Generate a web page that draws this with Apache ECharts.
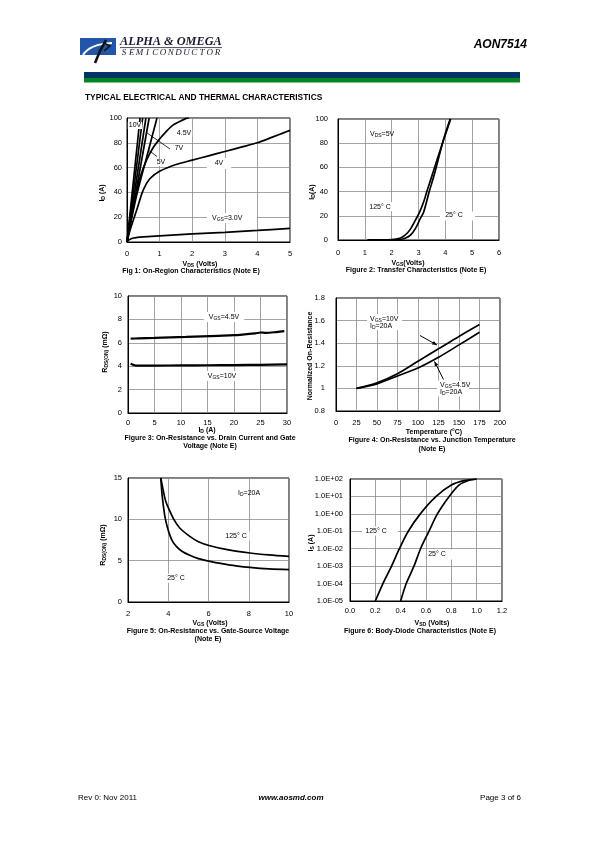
<!DOCTYPE html>
<html><head><meta charset="utf-8">
<script src="https://cdn.jsdelivr.net/npm/echarts@6/dist/echarts.min.js"></script>
<style>html,body{margin:0;padding:0;background:#fff}#c{width:595px;height:842px}</style>
</head><body><div id="c"></div>
<script>
// ---------- DATA ----------
// Fig 1: ID (A) vs VDS (V)
const f1_10V = [[0,0],[0.40,100]];
const f1_8V  = [[0,0],[0.48,100]];
const f1_7V  = [[0,0],[0.58,100]];
const f1_6V  = [[0,0],[0.68,100]];
const f1_5V  = [[0,0],[0.3,38],[0.66,74],[0.92,100]];
const f1_45V = [[0,0],[0.2,30],[0.4,52],[0.6,66],[0.8,76],[1.0,83],[1.2,89],[1.4,94],[1.6,97],[1.8,99.5],[1.9,100]];
const f1_4V  = [[0,0],[0.1,10],[0.3,26],[0.5,42],[0.7,51],[1.0,57],[1.5,62.5],[2.0,66],[2.5,69.5],[3.0,73],[3.5,76.5],[4.0,80],[4.5,85],[4.8,88],[5.0,90]];
const f1_3V  = [[0,0],[0.05,1.5],[0.2,3.2],[0.5,4.2],[1.0,5],[2.0,6.5],[3.0,7.8],[4.0,9.3],[5.0,11]];
// Fig 2: ID (A) vs VGS (V)
const f2_125 = [[1.1,0],[1.5,0.1],[2.0,0.4],[2.3,1.5],[2.5,4],[2.7,9],[2.9,17],[3.04,23],[3.2,32],[3.31,40],[3.5,53],[3.7,67],[3.88,79],[4.0,87],[4.2,100]];
const f2_25  = [[1.1,0],[2.0,0.1],[2.3,0.4],[2.5,1.4],[2.7,4],[2.9,10],[3.05,17],[3.19,23],[3.4,40],[3.6,55],[3.88,79],[4.0,88],[4.18,100]];
// Fig 3: RDS(ON) (mOhm) vs ID (A)
const f3_45V = [[0.5,6.35],[2,6.38],[5,6.42],[8,6.47],[11,6.5],[14,6.55],[17,6.6],[20,6.65],[22,6.72],[24,6.8],[25,6.88],[26,6.85],[28,6.92],[29.5,7.0]];
const f3_10V = [[0.5,4.2],[1.5,4.05],[5,4.05],[10,4.07],[15,4.08],[20,4.1],[25,4.12],[30,4.15]];
// Fig 4: normalized RDS(ON) vs temperature (C)
const f4_10V = [[25,1.0],[50,1.05],[75,1.13],[100,1.24],[125,1.35],[150,1.46],[175,1.565]];
const f4_45V = [[25,1.0],[50,1.04],[75,1.11],[100,1.18],[125,1.275],[150,1.385],[175,1.497]];
// Fig 5: RDS(ON) (mOhm) vs VGS (V)
const f5_125 = [[3.63,15],[3.8,12.9],[3.9,12],[4.07,11.05],[4.3,9.9],[4.57,8.95],[5.07,7.94],[5.5,7.3],[6.07,6.81],[7,6.3],[8.06,5.93],[9,5.7],[10,5.52]];
const f5_25  = [[3.63,15],[3.7,12.8],[3.83,10.4],[3.95,9.1],[4.07,8.15],[4.2,7.4],[4.4,6.73],[4.7,6.1],[5.07,5.65],[5.5,5.25],[6.07,4.92],[7,4.5],[8.06,4.19],[9,4.0],[10,3.91]];
// Fig 6: IS (A) vs VSD (V)
const f6_125 = [[0.2,1e-5],[0.26,1e-4],[0.328,1e-3],[0.39,1e-2],[0.46,1e-1],[0.555,1],[0.68,10],[0.8,45],[0.9,80],[1.0,100]];
const f6_25  = [[0.4,1e-5],[0.444,1e-4],[0.505,1e-3],[0.557,1e-2],[0.623,1e-1],[0.69,1],[0.783,10],[0.86,45],[0.93,80],[1.0,100]];

// ---------- LAYOUT / STYLE ----------
const FF = 'Liberation Sans, Arial, Helvetica, sans-serif';
const SERIF = 'Liberation Serif, Times New Roman, serif';
const grids = [
  {left:127, top:118, width:163, height:124},
  {left:338, top:119, width:161, height:121},
  {left:128, top:296, width:159, height:117},
  {left:336, top:298, width:164, height:113},
  {left:128, top:478, width:161, height:124},
  {left:350, top:479, width:152, height:122}
].map(g => Object.assign({show:true, borderColor:'#000', borderWidth:1}, g));

function ax(gi, o, margin, fmt) {
  return Object.assign({
    gridIndex: gi, type:'value',
    axisLine:{show:true, onZero:false, lineStyle:{color:'#000', width:1}},
    axisTick:{show:false},
    splitLine:{show:true, lineStyle:{color:'#8c8c8c', width:0.8}},
    axisLabel:{fontSize:7.5, color:'#000', fontFamily:FF, margin: margin, formatter: fmt}
  }, o);
}
const fmt1 = v => String(+v.toFixed(1));
const fmtF = v => v.toFixed(1);
const fmtE = v => { const e = Math.round(Math.log10(v)); return '1.0E' + (e < 0 ? '-' : '+') + String(Math.abs(e)).padStart(2,'0'); };

const xAxes = [
  ax(0,{min:0,max:5,interval:1},8,fmt1),
  ax(1,{min:0,max:6,interval:1},9,fmt1),
  ax(2,{min:0,max:30,interval:5},6,fmt1),
  ax(3,{min:0,max:200,interval:25},7.5,fmt1),
  ax(4,{min:2,max:10,interval:2},8,fmt1),
  ax(5,{min:0,max:1.2,interval:0.2},5.5,fmtF)
];
const yAxes = [
  ax(0,{min:0,max:100,interval:20},5,fmt1),
  ax(1,{min:0,max:100,interval:20},10,fmt1),
  ax(2,{min:0,max:10,interval:2},6,fmt1),
  ax(3,{min:0.8,max:1.8,interval:0.2},11,fmt1),
  ax(4,{min:0,max:15,interval:5},6,fmt1),
  ax(5,{type:'log',logBase:10,min:1e-5,max:100,splitNumber:7},7,fmtE)
];

function line(gi, data, w) {
  return {type:'line', xAxisIndex:gi, yAxisIndex:gi, data:data, showSymbol:false, symbol:'none',
    smooth:0.3, clip:true, silent:true, animation:false,
    lineStyle:{color:'#000', width:w || 1.7}};
}
const series = [
  line(0,f1_10V), line(0,f1_8V), line(0,f1_7V), line(0,f1_6V), line(0,f1_5V),
  line(0,f1_45V), line(0,f1_4V), line(0,f1_3V),
  line(1,f2_125), line(1,f2_25),
  line(2,f3_45V,2.2), line(2,f3_10V,2.2),
  line(3,f4_10V), line(3,f4_45V),
  line(4,f5_125), line(4,f5_25),
  line(5,f6_125), line(5,f6_25)
];

// ---------- TEXT / DECORATION ----------
const G = [];
const RICH = {
  a:{fontSize:7, fontFamily:FF, fontWeight:'bold', verticalAlign:'middle', lineHeight:8},
  s:{fontSize:5, fontFamily:FF, fontWeight:'bold', verticalAlign:'bottom', lineHeight:4},
  n:{fontSize:7, fontFamily:FF, fontWeight:'normal', verticalAlign:'middle', lineHeight:8},
  ns:{fontSize:5, fontFamily:FF, fontWeight:'normal', verticalAlign:'bottom', lineHeight:4}
};
function T(x, y, text, o) {
  o = o || {};
  const st = Object.assign({text:text, fill:'#000', fontFamily:FF, fontSize:7, align:'center', verticalAlign:'middle', rich:RICH}, o.style || {});
  G.push({type:'text', x:x, y:y, rotation:o.rot || 0, z:100, style:st});
}
function L(x1,y1,x2,y2,w,c) {
  G.push({type:'line', z:90, shape:{x1,y1,x2,y2}, style:{stroke:c||'#000', lineWidth:w||0.8}});
}
function ARROW(x1,y1,x2,y2) {
  L(x1,y1,x2,y2,1);
  const a = Math.atan2(y2-y1, x2-x1), h = 5, s = 0.4;
  G.push({type:'polygon', z:90, shape:{points:[[x2,y2],[x2-h*Math.cos(a-s),y2-h*Math.sin(a-s)],[x2-h*Math.cos(a+s),y2-h*Math.sin(a+s)]]}, style:{fill:'#000'}});
}
const W = {backgroundColor:'#fff', padding:[1,3]};

// header
G.push({type:'rect', z:80, shape:{x:80,y:38,width:36,height:17}, style:{fill:'#2256a8'}});
G.push({type:'bezierCurve', z:81, shape:{x1:83,y1:55,cpx1:90,cpy1:44,x2:112,y2:43}, style:{stroke:'#fff', lineWidth:2, fill:null}});
G.push({type:'polyline', z:82, shape:{points:[[95,63],[100,51],[106,40]]}, style:{stroke:'#111', lineWidth:2.6}});
G.push({type:'polyline', z:82, shape:{points:[[104,43],[110,46],[104,51]]}, style:{stroke:'#111', lineWidth:1.6}});
T(120, 42.3, 'ALPHA & OMEGA', {style:{align:'left', fontFamily:SERIF, fontStyle:'italic', fontWeight:'bold', fontSize:12.3, fill:'#1a1a2e'}});
L(120, 47.6, 222, 47.6, 0.8, '#1a1a2e');
const SEMI = 'SEMICONDUCTOR';
for (let i = 0; i < SEMI.length; i++) {
  T(124 + i*7.8, 52.8, SEMI[i], {style:{fontFamily:SERIF, fontStyle:'italic', fontSize:9, fill:'#1a1a2e'}});
}
T(527, 44.5, 'AON7514', {style:{align:'right', fontStyle:'italic', fontWeight:'bold', fontSize:12}});
G.push({type:'rect', z:80, shape:{x:84,y:72,width:436,height:6}, style:{fill:'#003466'}});
G.push({type:'rect', z:80, shape:{x:84,y:78,width:436,height:4.5}, style:{fill:'#008424'}});
T(85, 98, 'TYPICAL ELECTRICAL AND THERMAL CHARACTERISTICS', {style:{align:'left', fontWeight:'bold', fontSize:8.4}});

// Fig 1
T(102, 193, '{a|I}{s|D}{a| (A)}', {rot:Math.PI/2});
T(200, 264, '{a|V}{s|DS}{a| (Volts)}');
T(191, 271.5, 'Fig 1: On-Region Characteristics (Note E)', {style:{fontWeight:'bold'}});
T(135, 125.5, '10V', {style:Object.assign({fontSize:7}, W, {padding:[0,1]})});
T(184, 133, '4.5V', {style:Object.assign({fontSize:7}, W, {padding:[0,1]})});
L(146.7,132.7,170,149);
T(179, 148.5, '7V', {style:Object.assign({fontSize:7}, W, {padding:[0,1]})});
L(148.3,150,157,156.5);
T(161, 162.5, '5V', {style:Object.assign({fontSize:7}, W, {padding:[0,1]})});
T(219, 163.5, '4V', {style:Object.assign({fontSize:7}, W, {padding:[2,8]})});
G.push({type:'rect', z:95, shape:{x:207,y:213,width:50,height:10}, style:{fill:'#fff'}});
T(212, 218.3, '{n|V}{ns|GS}{n|=3.0V}', {style:{align:'left'}});

// Fig 2
T(312, 192, '{a|I}{s|D}{a|(A)}', {rot:Math.PI/2});
T(408, 263, '{a|V}{s|GS}{a|(Volts)}');
T(416, 270.5, 'Figure 2: Transfer Characteristics (Note E)', {style:{fontWeight:'bold'}});
T(370, 134, '{n|V}{ns|DS}{n|=5V}', {style:{align:'left'}});
T(380, 206.7, '125° C', {style:Object.assign({fontSize:7}, W)});
G.push({type:'rect', z:95, shape:{x:440,y:211.5,width:35,height:9}, style:{fill:'#fff'}});
T(454, 215.5, '25° C', {style:{fontSize:7}});

// Fig 3
T(105, 352, '{a|R}{s|DS(ON)}{a| (mΩ)}', {rot:Math.PI/2});
T(207, 430, '{a|I}{s|D}{a| (A)}');
T(210, 438, 'Figure 3: On-Resistance vs. Drain Current and Gate', {style:{fontWeight:'bold'}});
T(210, 446.5, 'Voltage (Note E)', {style:{fontWeight:'bold'}});
T(224, 317, '{n|V}{ns|GS}{n|=4.5V}', {style:Object.assign({}, W, {padding:[1,5]})});
T(222, 376, '{n|V}{ns|GS}{n|=10V}', {style:Object.assign({}, W, {padding:[1,5]})});

// Fig 4
T(310, 356, 'Normalized On-Resistance', {rot:Math.PI/2, style:{fontWeight:'bold'}});
T(434, 432, 'Temperature (°C)', {style:{fontWeight:'bold'}});
T(432, 440.5, 'Figure 4: On-Resistance vs. Junction Temperature', {style:{fontWeight:'bold'}});
T(432, 449, '(Note E)', {style:{fontWeight:'bold'}});
G.push({type:'rect', z:95, shape:{x:367,y:314,width:35,height:16}, style:{fill:'#fff'}});
T(370, 319, '{n|V}{ns|GS}{n|=10V}', {style:{align:'left'}});
T(370, 326, '{n|I}{ns|D}{n|=20A}', {style:{align:'left'}});
ARROW(420, 335.5, 437, 345);
G.push({type:'rect', z:95, shape:{x:437,y:380.5,width:32,height:16}, style:{fill:'#fff'}});
T(440, 385, '{n|V}{ns|GS}{n|=4.5V}', {style:{align:'left'}});
T(440, 392.3, '{n|I}{ns|D}{n|=20A}', {style:{align:'left'}});
ARROW(443.5, 379.5, 434.5, 361.5);

// Fig 5
T(103, 545, '{a|R}{s|DS(ON)}{a| (mΩ)}', {rot:Math.PI/2});
T(210, 623.5, '{a|V}{s|GS}{a| (Volts)}');
T(208, 631, 'Figure 5: On-Resistance vs. Gate-Source Voltage', {style:{fontWeight:'bold'}});
T(208, 639.5, '(Note E)', {style:{fontWeight:'bold'}});
T(238, 492.7, '{n|I}{ns|D}{n|=20A}', {style:{align:'left'}});
T(236, 536, '125° C', {style:Object.assign({}, W)});
T(176, 578.3, '25° C', {style:Object.assign({}, W)});

// Fig 6
T(311, 543, '{a|I}{s|S}{a| (A)}', {rot:Math.PI/2});
T(432, 623.5, '{a|V}{s|SD}{a| (Volts)}');
T(420, 631, 'Figure 6: Body-Diode Characteristics (Note E)', {style:{fontWeight:'bold'}});
G.push({type:'rect', z:95, shape:{x:362,y:526.5,width:36,height:9}, style:{fill:'#fff'}});
T(376, 531, '125° C', {style:{fontSize:7}});
G.push({type:'rect', z:95, shape:{x:427,y:549.5,width:42,height:10}, style:{fill:'#fff'}});
T(437, 554.5, '25° C', {style:{fontSize:7}});

// footer
T(78, 797.5, 'Rev 0: Nov 2011', {style:{align:'left', fontSize:8}});
T(291, 797.5, 'www.aosmd.com', {style:{fontSize:8, fontWeight:'bold', fontStyle:'italic'}});
T(521, 797.5, 'Page 3 of 6', {style:{align:'right', fontSize:8}});

const chart = echarts.init(document.getElementById('c'), null, {renderer:'canvas'});
chart.setOption({
  animation:false,
  backgroundColor:'#fff',
  grid: grids, xAxis: xAxes, yAxis: yAxes, series: series,
  graphic: G
});
</script></body></html>
